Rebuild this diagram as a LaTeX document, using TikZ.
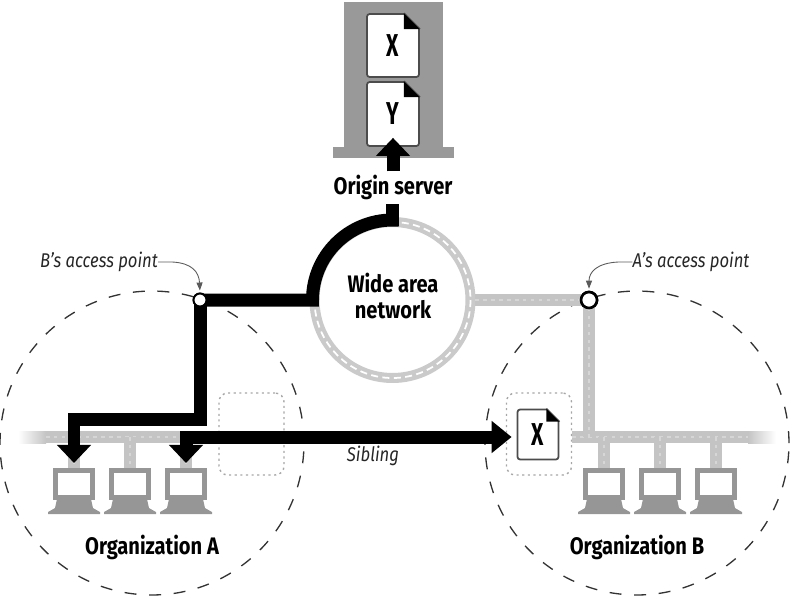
\documentclass[tikz,border=0pt]{standalone}
\usepackage{fontspec}
\setmainfont[FakeStretch=0.84]{Fira Sans}
\usetikzlibrary{arrows.meta, calc}
\definecolor{servergrey}{RGB}{153, 153, 153}
\definecolor{wiregrey}{RGB}{196, 196, 196}
\definecolor{wirelight}{RGB}{214, 214, 214}
\definecolor{pcgrey}{RGB}{150, 150, 150}
\definecolor{leadgrey}{RGB}{90, 90, 90}
\tikzset{
  boldlabel/.style={font=\fontsize{13.6pt}{14.4pt}\selectfont\bfseries, align=center, inner sep=0pt},
  notelabel/.style={font=\fontsize{11.3pt}{12pt}\selectfont\itshape, text=black!85, inner sep=0pt},
  orgcircle/.style={circle, draw=black!80, line width=0.75pt, dash pattern=on 6.8pt off 7.2pt, minimum size=6.08cm, inner sep=0pt},
  dotbox/.style={draw=black!35, line width=0.8pt, dash pattern=on 1.2pt off 2pt, rounded corners=5pt, minimum width=1.3cm, minimum height=1.64cm, inner sep=0pt},
  docbox/.style={draw=black!70, fill=white, line width=1pt, rounded corners=1.5pt, inner sep=0pt, font=\fontsize{18pt}{18pt}\selectfont\bfseries},
  pcbox/.style={draw=pcgrey, fill=white, line width=2.6pt, minimum width=0.75cm, minimum height=0.55cm, inner sep=0pt},
  greywire/.style={draw=wiregrey, line width=0.24cm, postaction={draw=wirelight, line width=0.03cm, dash pattern=on 2pt off 2.5pt}},
  blackwire/.style={draw=black, line width=0.26cm},
  blacktip/.style={-{Triangle[length=0.36cm, width=0.66cm]}},
  accesspt/.style={circle, draw=black, fill=white, line width=1.5pt, minimum size=0.26cm, inner sep=0pt},
  leader/.style={draw=leadgrey, line width=0.5pt, -{Triangle[length=0.16cm, width=0.12cm]}, shorten >=0.04cm}
}
\newcommand{\corner}[3]{%
  \fill[#3] ($(#1.north east)+(-#2,-1)$) -- ($(#1.north east)+(1,-1)$) -- ($(#1.north east)+(1,#2)$) -- cycle;
  \draw[black!70, line width=1pt] ($(#1.north east)+(-#2,0)$) -- ($(#1.north east)+(0,#2)$);
  \fill[black] ($(#1.north east)+(-#2,0)$) -- ($(#1.north east)+(0,#2)$) -- ($(#1.north east)+(-#2,#2)$) -- cycle;
}
\newcommand{\docletter}[2]{\raisebox{#1}{\scalebox{0.8}[1]{#2}}}
\begin{document}
\begin{tikzpicture}[x=0.02cm, y=-0.02cm]
  \useasboundingbox (0,0) rectangle (794,599);

  % Organizations
  \node[orgcircle] (orga) at (152,443) {};
  \node[orgcircle] (orgb) at (637,443) {};
  \node[boldlabel] (orgalabel) at (152,547) {Organization A};
  \node[boldlabel] (orgblabel) at (637,547) {Organization B};

  % Origin server
  \fill[servergrey] (344,2) rectangle (443,147);
  \fill[servergrey] (333,147) rectangle (454,158);
  \node[docbox, minimum width=1.04cm, minimum height=1.26cm] (docx) at (393,45.5) {\docletter{-2pt}{X}};
  \node[docbox, minimum width=1.04cm, minimum height=1.28cm] (docy) at (393,114) {\docletter{-2pt}{Y}};
  \corner{docx}{16}{servergrey}
  \corner{docy}{16}{servergrey}
  \node[boldlabel] (origin) at (393,187) {Origin server};

  % Wide area network
  \node[circle, draw=wiregrey!90, line width=0.2cm, minimum size=3.12cm, inner sep=0pt] (wan) at (392.5,300) {};
  \draw[draw=white, line width=0.035cm, dash pattern=on 4pt off 2.5pt] (wan.center) circle[radius=78];
  \node[boldlabel] (wanlabel) at (393,296) {Wide area\\network};

  % Sibling boxes
  \node[dotbox] (boxa) at (251.5,434) {};
  \node[dotbox] (boxb) at (539,434) {};
  \node[docbox, minimum width=0.82cm, minimum height=1cm] (docsib) at (538,434.5) {\docletter{-1.5pt}{X}};
  \corner{docsib}{13}{white}

  % Access points
  \node[accesspt, line width=1.1pt] (apb) at (200,300) {};
  \node[accesspt, minimum size=0.32cm] (apa) at (589,300) {};

  % Buses
  \coordinate (busa) at (200,437);
  \coordinate (busb) at (589,437);
  \fill[left color=white, right color=wiregrey] (18,431) rectangle (46,443);
  \draw[greywire] (46,437) -- (busa);
  \fill[right color=white, left color=wiregrey] (748,431) rectangle (776,443);
  \draw[greywire] (boxb.east |- busb) -- (748,437);

  % Monitors
  \foreach \name/\xpos in {mona/74, monb/130, monc/186, mond/604, mone/660, monf/716} {
    \node[pcbox] (\name) at (\xpos,484) {};
    \fill[pcgrey] ($(\name.south)+(-17,-1)$) -- ($(\name.south)+(17,-1)$) -- ($(\name.south)+(19,8)$) -- ($(\name.south)+(26,12)$) -- ($(\name.south)+(26,14)$) -- ($(\name.south)+(-26,14)$) -- ($(\name.south)+(-26,12)$) -- ($(\name.south)+(-19,8)$) -- cycle;
    \draw[greywire] (\name.north |- busa) -- (\name.north);
  }

  % Grey route to A's access point
  \draw[greywire] (wan.east) -- (apa.center);
  \draw[greywire] (apa.center) -- (busb);
  \node[accesspt, minimum size=0.32cm] at (apa) {};

  % Black routes
  \coordinate (wanwest) at ($(wan.center)+(-80,0)$);
  \coordinate (wannorth) at ($(wan.center)+(0,-80)$);
  \draw[blackwire] (apb.center) -- (wanwest) arc[start angle=180, end angle=90, radius=1.6cm] -- ($(wannorth)+(6,0)$);
  \fill[black] (386,204) rectangle (399,226);
  \draw[blackwire, blacktip, shorten >=0.1cm, line join=miter] (apb.center) |- (200,419) -| (mona.north);
  \node[accesspt, line width=1.1pt] at (apb) {};
  \coordinate (sibcorner) at (monc.north |- busa);
  \draw[blackwire, {Triangle[length=0.36cm, width=0.66cm]}-{Triangle[length=0.4cm, width=0.62cm]}, shorten <=0.1cm, shorten >=0.1cm, line join=miter] (monc.north) -- (sibcorner) -- (docsib.west |- sibcorner);
  \draw[blackwire, blacktip, shorten >=-0.18cm] (origin.north) ++(0,-3) -- (docy.south);

  % Notes
  \node[notelabel] (noteb) at (99,262) {B's access point};
  \node[notelabel] (notea) at (691,262) {A's access point};
  \node[notelabel] (sibling) at (373,456) {Sibling};
  \draw[leader] (noteb.east) -- ++(14,0) .. controls (192,263) and (199,272) .. (apb.north);
  \draw[leader] (notea.west) -- ++(-14,0) .. controls (597,263) and (589,272) .. (apa.north);
\end{tikzpicture}
\end{document}
